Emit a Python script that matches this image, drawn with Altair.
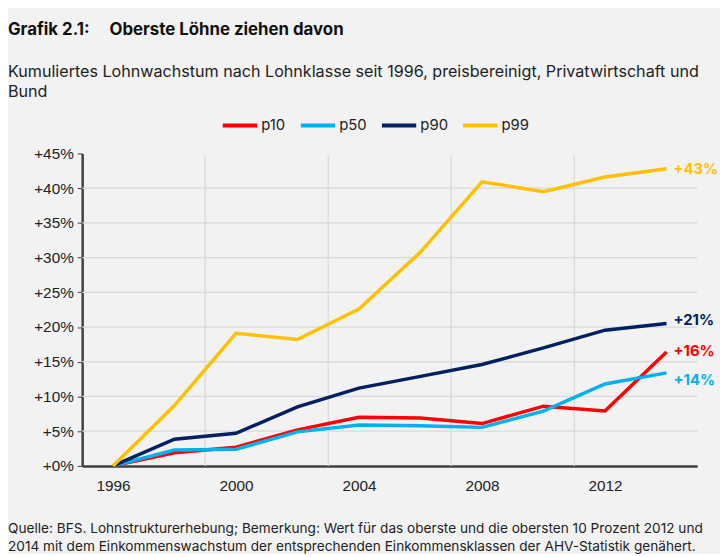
import altair as alt
import pandas as pd

years = [1996, 1998, 2000, 2002, 2004, 2006, 2008, 2010, 2012, 2014]
p10 = [0, 1.9, 2.7, 5.2, 7.0, 6.9, 6.1, 8.6, 7.9, 16.4]
p50 = [0, 2.3, 2.4, 4.9, 5.9, 5.8, 5.55, 7.9, 11.8, 13.4]
p90 = [0, 3.85, 4.7, 8.5, 11.2, 12.9, 14.6, 17.0, 19.55, 20.5]
p99 = [0, 8.7, 19.1, 18.2, 22.6, 30.8, 40.9, 39.5, 41.6, 42.8]
series_names = ["p10", "p50", "p90", "p99"]
series_colors = ["#ff0000", "#00b0f0", "#002060", "#ffc000"]
end_labels = ["+16%", "+14%", "+21%", "+43%"]
x_tick_values = [1996, 2000, 2004, 2008, 2012]
y_tick_values = [0, 5, 10, 15, 20, 25, 30, 35, 40, 45]
h_grid_values = [5, 10, 15, 20, 25, 30, 35, 40]
v_grid_values = [1999, 2003, 2007, 2011]

title_text = "Grafik 2.1:" + "\u00a0" * 5 + "Oberste Löhne ziehen davon"
subtitle_lines = [
    "Kumuliertes Lohnwachstum nach Lohnklasse seit 1996, preisbereinigt, Privatwirtschaft und",
    "Bund",
]
footer_lines = [
    "Quelle: BFS. Lohnstrukturerhebung; Bemerkung: Wert für das oberste und die obersten 10 Prozent 2012 und",
    "2014 mit dem Einkommenswachstum der entsprechenden Einkommensklassen der AHV-Statistik genähert.",
]

FONT = "Inter"
TICKFONT = "Liberation Sans"
BG = "#f2f2f2"

rows = []
for name, vals in zip(series_names, [p10, p50, p90, p99]):
    for y, v in zip(years, vals):
        rows.append({"Jahr": y, "Wert": v, "Serie": name})
df = pd.DataFrame(rows)

xscale = alt.Scale(domain=[1995, 2015], nice=False, zero=False)
yscale = alt.Scale(domain=[0, 45], nice=False)

xaxis = alt.Axis(
    title=None,
    values=x_tick_values,
    format="d",
    grid=False,
    ticks=False,
    labelPadding=13,
    labelFont=TICKFONT,
    labelFontSize=15.5,
    labelColor="#222222",
    domainColor="#404040",
    domainWidth=2.5,
)
yaxis = alt.Axis(
    title=None,
    values=y_tick_values,
    labelExpr="'+' + datum.value + '%'",
    grid=False,
    tickSize=5,
    tickColor="#404040",
    tickWidth=1,
    labelPadding=4,
    labelFont=TICKFONT,
    labelFontSize=15.5,
    labelColor="#222222",
    domainColor="#404040",
    domainWidth=2.5,
)

color = alt.Color(
    "Serie:N",
    scale=alt.Scale(domain=series_names, range=series_colors),
    legend=alt.Legend(
        title=None,
        orient="none",
        legendX=140,
        legendY=-48,
        direction="horizontal",
        symbolType="stroke",
        symbolSize=1200,
        symbolStrokeWidth=4,
        labelFont=FONT,
        labelFontSize=15,
        labelColor="#222222",
        labelOffset=2,
        columnPadding=7,
    ),
)

hgrid = alt.Chart(pd.DataFrame({"g": h_grid_values})).mark_rule(
    color="#d9d9d9", strokeWidth=1.3
).encode(
    y=alt.Y("g:Q", scale=yscale, axis=yaxis),
    x=alt.value(0),
    x2=alt.value(622),
)

vgrid = alt.Chart(pd.DataFrame({"g": v_grid_values})).mark_rule(
    color="#d9d9d9", strokeWidth=1.3
).encode(
    x=alt.X("g:Q", scale=xscale, axis=xaxis),
    y=alt.value(2),
    y2=alt.value(316),
)

lines = alt.Chart(df).mark_line(strokeWidth=3.5).encode(
    x=alt.X("Jahr:Q", scale=xscale, axis=xaxis),
    y=alt.Y("Wert:Q", scale=yscale, axis=yaxis),
    color=color,
    order=alt.Order("Jahr:Q"),
)

label_dy = {"p10": -1, "p50": 7, "p90": -4, "p99": 0}
label_layers = []
last = df[df["Jahr"] == years[-1]]
for name, col, lab in zip(series_names, series_colors, end_labels):
    d = last[last["Serie"] == name].assign(label=lab)
    label_layers.append(
        alt.Chart(d).mark_text(
            align="left", baseline="middle", dx=7, dy=label_dy[name],
            font=FONT, fontSize=15, fontWeight="bold", color=col,
        ).encode(
            x=alt.X("Jahr:Q", scale=xscale, axis=xaxis),
            y=alt.Y("Wert:Q", scale=yscale, axis=yaxis),
            text="label:N",
        )
    )

footer = alt.Chart(pd.DataFrame({"a": [0]})).mark_text(
    align="left", baseline="middle", font=FONT, fontSize=13.8,
    color="#222222", lineHeight=18.5,
).encode(
    x=alt.value(-75),
    y=alt.value(380),
    text=alt.value(footer_lines),
)

chart = alt.layer(hgrid, vgrid, lines, *label_layers, footer).properties(
    width=622,
    height=316,
    autosize=alt.AutoSizeParams(type="none"),
    padding={"left": 75, "top": 144, "right": 23, "bottom": 86},
    background=BG,
    title=alt.TitleParams(
        text=title_text,
        subtitle=subtitle_lines,
        anchor="start",
        frame="group",
        dx=-75,
        offset=5,
        font=FONT,
        fontSize=17,
        fontWeight="bold",
        color="#111111",
        subtitleFont=FONT,
        subtitleFontSize=16.3,
        subtitleColor="#222222",
        subtitlePadding=26,
        subtitleLineHeight=19.5,
    ),
).configure_view(stroke=None)

chart.save("out.html", embed_options={"renderer": "svg", "actions": False})
